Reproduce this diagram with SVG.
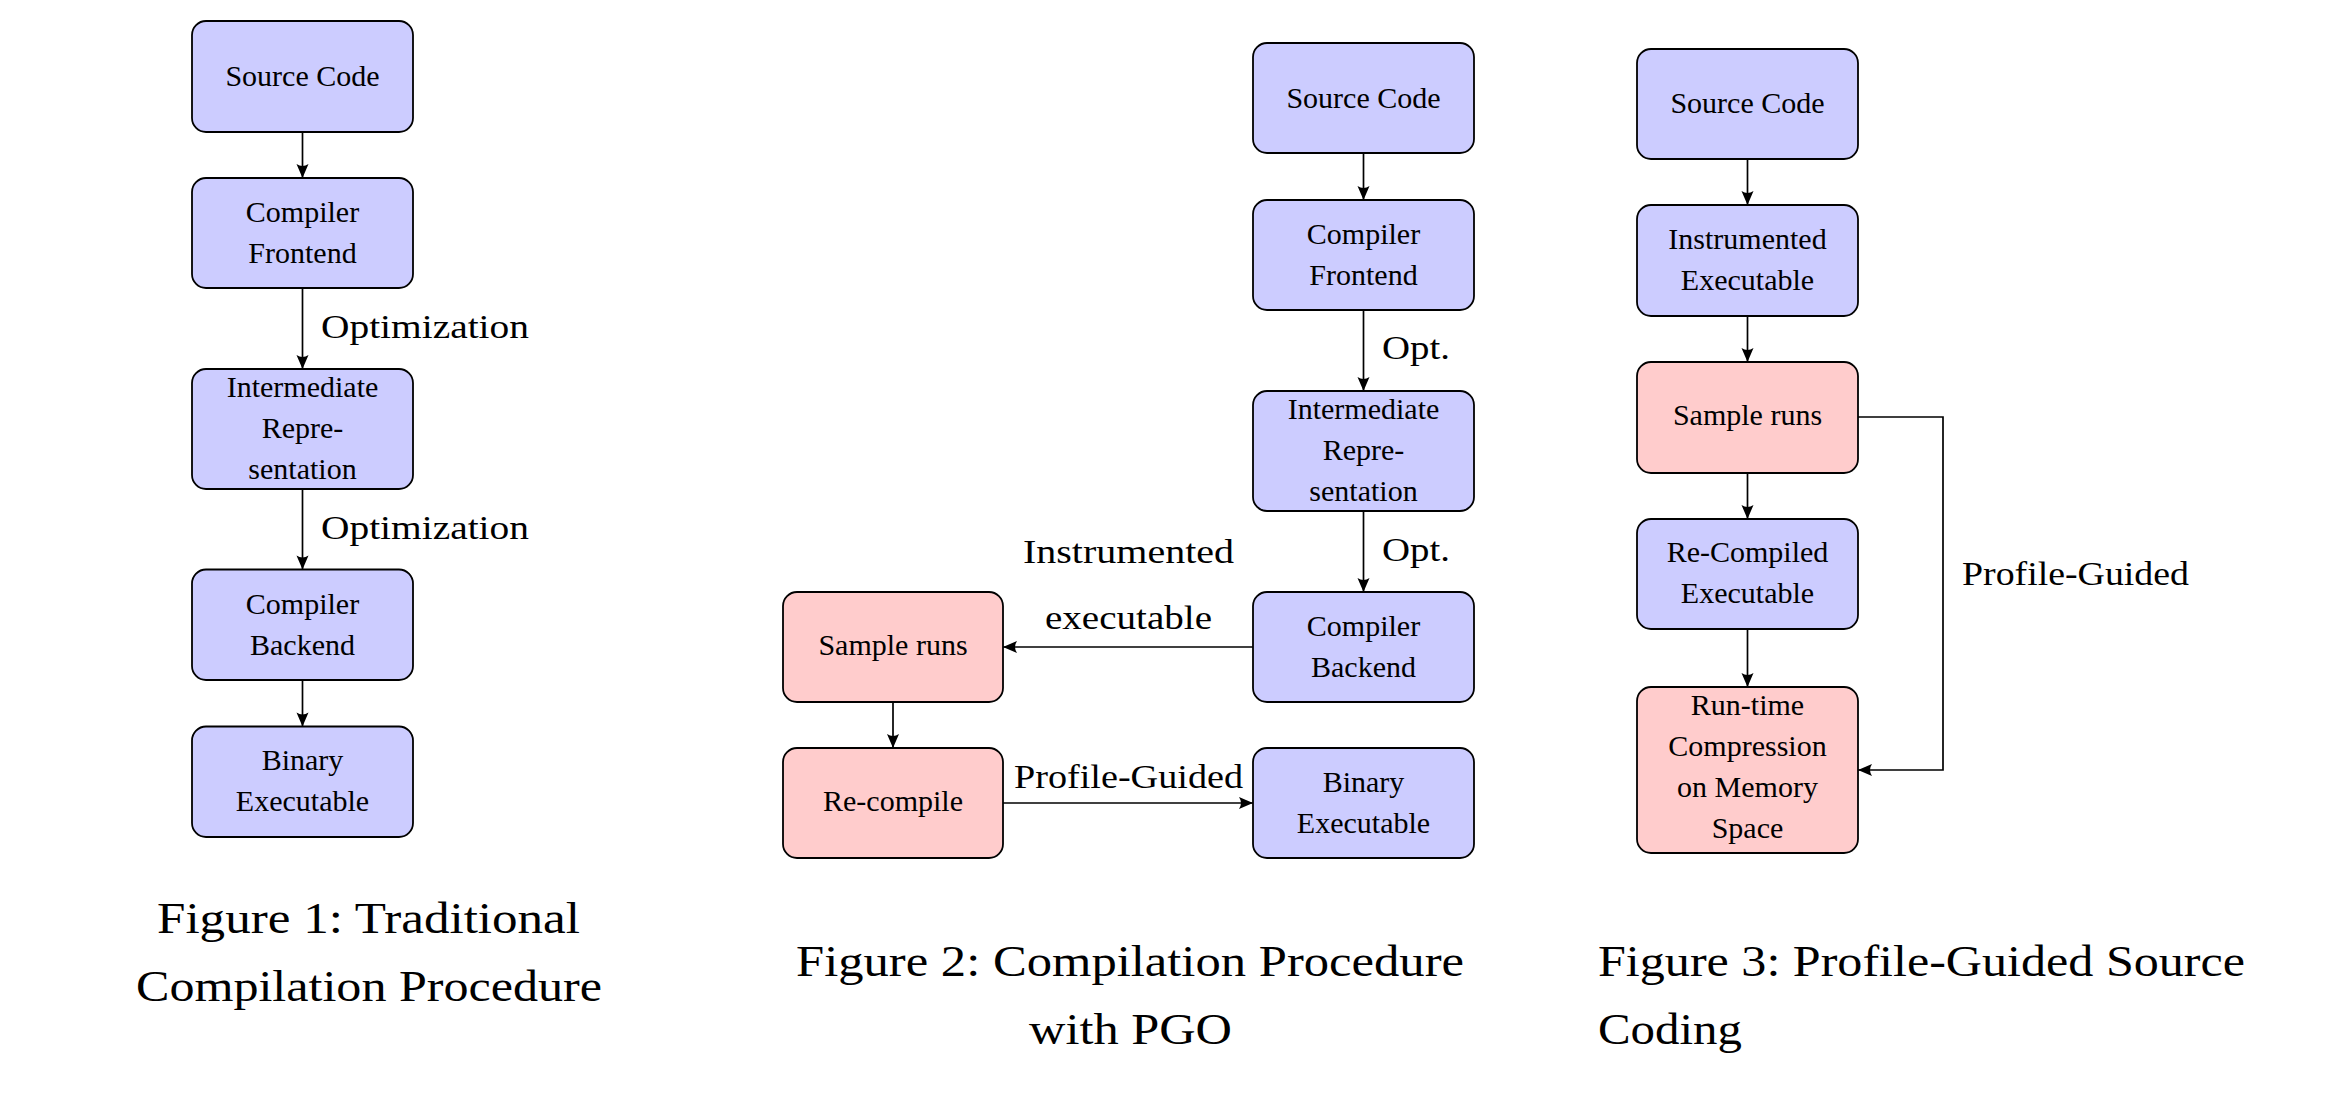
<svg xmlns="http://www.w3.org/2000/svg" width="2344" height="1110" viewBox="0 0 2344 1110">
<style>
.b{fill:#ccccff;stroke:#000;stroke-width:1.8}
.r{fill:#ffcccc;stroke:#000;stroke-width:1.8}
.n{font-family:"Liberation Serif",serif;font-size:30px;text-anchor:middle;fill:#000}
.l{font-family:"Liberation Serif",serif;font-size:34px;fill:#000}
.c{font-family:"Liberation Serif",serif;font-size:44px;fill:#000}
.e{fill:none;stroke:#000;stroke-width:1.7}
</style>
<defs>
<marker id="arr" markerUnits="userSpaceOnUse" markerWidth="16" markerHeight="14" viewBox="0 0 16 14" refX="15" refY="7" orient="auto">
<path d="M15,7 L1,1 Q5,7 1,13 Z" fill="#000"/>
</marker>
</defs>
<rect width="2344" height="1110" fill="#fff"/>

<g id="connectors">
<line class="e" x1="302.5" y1="132" x2="302.5" y2="178" marker-end="url(#arr)"/>
<line class="e" x1="302.5" y1="288" x2="302.5" y2="369" marker-end="url(#arr)"/>
<line class="e" x1="302.5" y1="489" x2="302.5" y2="569.5" marker-end="url(#arr)"/>
<line class="e" x1="302.5" y1="680" x2="302.5" y2="726.5" marker-end="url(#arr)"/>

<line class="e" x1="1363.5" y1="153" x2="1363.5" y2="200" marker-end="url(#arr)"/>
<line class="e" x1="1363.5" y1="310" x2="1363.5" y2="391" marker-end="url(#arr)"/>
<line class="e" x1="1363.5" y1="511" x2="1363.5" y2="592" marker-end="url(#arr)"/>
<line class="e" x1="1253" y1="647" x2="1003" y2="647" marker-end="url(#arr)"/>
<line class="e" x1="893" y1="702" x2="893" y2="748" marker-end="url(#arr)"/>
<line class="e" x1="1003" y1="803" x2="1253" y2="803" marker-end="url(#arr)"/>

<line class="e" x1="1747.5" y1="159" x2="1747.5" y2="205" marker-end="url(#arr)"/>
<line class="e" x1="1747.5" y1="316" x2="1747.5" y2="362" marker-end="url(#arr)"/>
<line class="e" x1="1747.5" y1="473" x2="1747.5" y2="519" marker-end="url(#arr)"/>
<line class="e" x1="1747.5" y1="629" x2="1747.5" y2="687" marker-end="url(#arr)"/>
<path class="e" d="M1858,417 H1943 V770 H1858" marker-end="url(#arr)"/>

<text class="l" x="321" y="338" textLength="208" lengthAdjust="spacingAndGlyphs">Optimization</text>
<text class="l" x="321" y="539" textLength="208" lengthAdjust="spacingAndGlyphs">Optimization</text>
<text class="l" x="1382" y="359" textLength="68" lengthAdjust="spacingAndGlyphs">Opt.</text>
<text class="l" x="1382" y="561" textLength="68" lengthAdjust="spacingAndGlyphs">Opt.</text>
<text class="l" x="1023" y="563" textLength="211" lengthAdjust="spacingAndGlyphs">Instrumented</text>
<text class="l" x="1045" y="629" textLength="167" lengthAdjust="spacingAndGlyphs">executable</text>
<text class="l" x="1014" y="788" textLength="229" lengthAdjust="spacingAndGlyphs">Profile-Guided</text>
<text class="l" x="1962" y="585" textLength="227" lengthAdjust="spacingAndGlyphs">Profile-Guided</text>
</g>

<g id="f1-source">
<rect class="b" x="192" y="21" width="221" height="111" rx="14"/>
<text class="n" x="302.5" y="86">Source Code</text>
</g>
<g id="f1-frontend">
<rect class="b" x="192" y="178" width="221" height="110" rx="14"/>
<text class="n" x="302.5" y="222">Compiler</text>
<text class="n" x="302.5" y="263">Frontend</text>
</g>
<g id="f1-ir">
<rect class="b" x="192" y="369" width="221" height="120" rx="14"/>
<text class="n" x="302.5" y="397">Intermediate</text>
<text class="n" x="302.5" y="438">Repre-</text>
<text class="n" x="302.5" y="479">sentation</text>
</g>
<g id="f1-backend">
<rect class="b" x="192" y="569.5" width="221" height="110.5" rx="14"/>
<text class="n" x="302.5" y="614">Compiler</text>
<text class="n" x="302.5" y="655">Backend</text>
</g>
<g id="f1-binary">
<rect class="b" x="192" y="726.5" width="221" height="110.5" rx="14"/>
<text class="n" x="302.5" y="770">Binary</text>
<text class="n" x="302.5" y="811">Executable</text>
</g>

<g id="f2-source">
<rect class="b" x="1253" y="43" width="221" height="110" rx="14"/>
<text class="n" x="1363.5" y="108">Source Code</text>
</g>
<g id="f2-frontend">
<rect class="b" x="1253" y="200" width="221" height="110" rx="14"/>
<text class="n" x="1363.5" y="244">Compiler</text>
<text class="n" x="1363.5" y="285">Frontend</text>
</g>
<g id="f2-ir">
<rect class="b" x="1253" y="391" width="221" height="120" rx="14"/>
<text class="n" x="1363.5" y="419">Intermediate</text>
<text class="n" x="1363.5" y="460">Repre-</text>
<text class="n" x="1363.5" y="501">sentation</text>
</g>
<g id="f2-backend">
<rect class="b" x="1253" y="592" width="221" height="110" rx="14"/>
<text class="n" x="1363.5" y="636">Compiler</text>
<text class="n" x="1363.5" y="677">Backend</text>
</g>
<g id="f2-binary">
<rect class="b" x="1253" y="748" width="221" height="110" rx="14"/>
<text class="n" x="1363.5" y="792">Binary</text>
<text class="n" x="1363.5" y="833">Executable</text>
</g>
<g id="f2-sample">
<rect class="r" x="783" y="592" width="220" height="110" rx="14"/>
<text class="n" x="893" y="655">Sample runs</text>
</g>
<g id="f2-recompile">
<rect class="r" x="783" y="748" width="220" height="110" rx="14"/>
<text class="n" x="893" y="811">Re-compile</text>
</g>

<g id="f3-source">
<rect class="b" x="1637" y="49" width="221" height="110" rx="14"/>
<text class="n" x="1747.5" y="113">Source Code</text>
</g>
<g id="f3-instr">
<rect class="b" x="1637" y="205" width="221" height="111" rx="14"/>
<text class="n" x="1747.5" y="249">Instrumented</text>
<text class="n" x="1747.5" y="290">Executable</text>
</g>
<g id="f3-sample">
<rect class="r" x="1637" y="362" width="221" height="111" rx="14"/>
<text class="n" x="1747.5" y="425">Sample runs</text>
</g>
<g id="f3-recompiled">
<rect class="b" x="1637" y="519" width="221" height="110" rx="14"/>
<text class="n" x="1747.5" y="562">Re-Compiled</text>
<text class="n" x="1747.5" y="603">Executable</text>
</g>
<g id="f3-runtime">
<rect class="r" x="1637" y="687" width="221" height="166" rx="14"/>
<text class="n" x="1747.5" y="715">Run-time</text>
<text class="n" x="1747.5" y="756">Compression</text>
<text class="n" x="1747.5" y="797">on Memory</text>
<text class="n" x="1747.5" y="838">Space</text>
</g>

<g id="captions">
<text class="c" x="157" y="933" textLength="423" lengthAdjust="spacingAndGlyphs">Figure 1: Traditional</text>
<text class="c" x="136" y="1001" textLength="466" lengthAdjust="spacingAndGlyphs">Compilation Procedure</text>
<text class="c" x="796" y="976" textLength="668" lengthAdjust="spacingAndGlyphs">Figure 2: Compilation Procedure</text>
<text class="c" x="1029" y="1044" textLength="203" lengthAdjust="spacingAndGlyphs">with PGO</text>
<text class="c" x="1598" y="976" textLength="647" lengthAdjust="spacingAndGlyphs">Figure 3: Profile-Guided Source</text>
<text class="c" x="1598" y="1044" textLength="144" lengthAdjust="spacingAndGlyphs">Coding</text>
</g>
</svg>
